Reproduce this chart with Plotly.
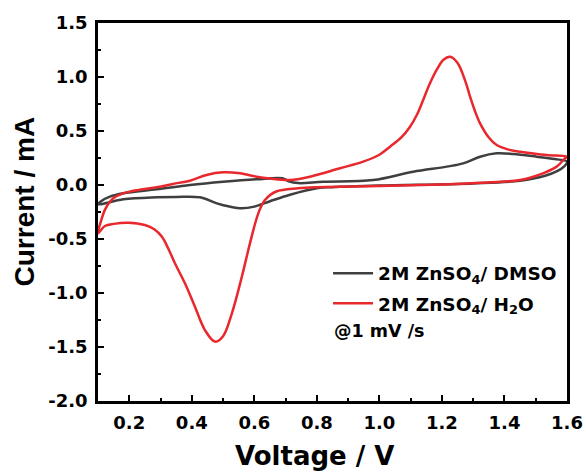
import plotly.graph_objects as go

# ---- data ----
v_h2o = [0.100, 0.110, 0.122, 0.138, 0.150, 0.181, 0.230, 0.288, 0.340, 0.394, 0.447, 0.500,
         0.554, 0.607, 0.650, 0.714, 0.778, 0.874, 0.948, 1.000, 1.034, 1.070, 1.098, 1.120,
         1.140, 1.160, 1.183, 1.205, 1.226, 1.250, 1.275, 1.290, 1.305, 1.322, 1.350,
         1.375, 1.410, 1.450, 1.535, 1.600,
         1.593, 1.567, 1.523, 1.450, 1.322, 1.200, 1.000, 0.800, 0.740, 0.670, 0.634, 0.613,
         0.586, 0.560, 0.528, 0.500, 0.474, 0.442, 0.410, 0.378, 0.346,
         0.325, 0.304, 0.280, 0.250, 0.197, 0.150, 0.122, 0.100]
i_h2o = [-0.447, -0.330, -0.230, -0.155, -0.120, -0.077, -0.045, -0.020, 0.010, 0.040, 0.093, 0.117,
         0.108, 0.077, 0.060, 0.046, 0.077, 0.155, 0.216, 0.280, 0.355, 0.440, 0.540, 0.650,
         0.787, 0.930, 1.065, 1.160, 1.188, 1.130, 0.960, 0.818, 0.690, 0.571, 0.440,
         0.370, 0.330, 0.308, 0.278, 0.262,
         0.245, 0.170, 0.108, 0.046, 0.021, 0.005, -0.010, -0.020, -0.030, -0.060, -0.139, -0.260,
         -0.540, -0.850, -1.190, -1.400, -1.450, -1.343, -1.127, -0.910, -0.725,
         -0.590, -0.478, -0.410, -0.370, -0.349, -0.360, -0.380, -0.447]

v_dmso = [0.100, 0.110, 0.138, 0.181, 0.288, 0.394, 0.500, 0.607, 0.690, 0.710, 0.740, 0.820,
          0.980, 1.108, 1.215, 1.268, 1.322, 1.375, 1.428, 1.503, 1.560, 1.600,
          1.590, 1.570, 1.530, 1.450, 1.300, 1.000, 0.850, 0.800, 0.714, 0.650, 0.600, 0.560,
          0.520, 0.480, 0.426, 0.350, 0.288, 0.181, 0.100]
i_dmso = [-0.180, -0.150, -0.108, -0.077, -0.040, 0.000, 0.030, 0.053, 0.062, 0.035, 0.018, 0.030,
          0.046, 0.123, 0.170, 0.200, 0.262, 0.293, 0.287, 0.262, 0.240, 0.216,
          0.170, 0.130, 0.085, 0.040, 0.015, -0.005, -0.020, -0.030, -0.090, -0.150, -0.200, -0.216,
          -0.200, -0.170, -0.114, -0.110, -0.114, -0.133, -0.180]

x_tick_vals = [0.2, 0.4, 0.6, 0.8, 1.0, 1.2, 1.4, 1.6]
x_tick_text = ["0.2", "0.4", "0.6", "0.8", "1.0", "1.2", "1.4", "1.6"]
y_tick_vals = [-2.0, -1.5, -1.0, -0.5, 0.0, 0.5, 1.0, 1.5]
y_tick_text = ["-2.0", "-1.5", "-1.0", "-0.5", "0.0", "0.5", "1.0", "1.5"]

name_dmso = "2M ZnSO<sub>4</sub>/ DMSO"
name_h2o = "2M ZnSO<sub>4</sub>/ H<sub>2</sub>O"

FONT = "DejaVu Sans"

fig = go.Figure()
fig.add_trace(go.Scatter(x=v_dmso, y=i_dmso, mode="lines", name=name_dmso, legendgroup="a",
                         line=dict(color="#3f3f3f", width=2.5, shape="spline", smoothing=1.0)))
fig.add_trace(go.Scatter(x=v_h2o, y=i_h2o, mode="lines", name=name_h2o, legendgroup="b",
                         line=dict(color="#e8282d", width=2.5, shape="spline", smoothing=1.0)))

axis_common = dict(showline=True, linecolor="black", linewidth=2.5, mirror=True,
                   ticks="inside", ticklen=6, tickwidth=2, tickcolor="black",
                   showgrid=False, zeroline=False, automargin=False,
                   tickfont=dict(family=FONT, size=18, color="black", weight="bold"))

fig.update_xaxes(range=[0.1, 1.6], tickvals=x_tick_vals, ticktext=x_tick_text,
                 ticklabelstandoff=4,
                 minor=dict(ticks="inside", ticklen=3, tickwidth=2, tickcolor="black", dtick=0.1, tick0=0.1),
                 **axis_common)
fig.update_yaxes(range=[-2.0, 1.5], tickvals=y_tick_vals, ticktext=y_tick_text,
                 ticklabelstandoff=4,
                 minor=dict(ticks="inside", ticklen=3, tickwidth=2, tickcolor="black", dtick=0.25, tick0=0),
                 **axis_common)

fig.update_layout(
    width=586, height=475,
    margin=dict(l=98, r=19, t=23, b=74, autoexpand=False),
    paper_bgcolor="white", plot_bgcolor="white",
    showlegend=True,
    legend=dict(x=0.4905, y=0.387, xanchor="left", yanchor="top",
                bgcolor="rgba(0,0,0,0)", itemwidth=40, traceorder="grouped", tracegroupgap=3,
                font=dict(family=FONT, size=18.5, color="black", weight="bold")),
    annotations=[
        dict(text="@1 mV /s", xref="paper", yref="paper", x=0.499, y=0.185,
             xanchor="left", yanchor="middle", showarrow=False,
             font=dict(family=FONT, size=17.5, color="black", weight="bold")),
        dict(text="Voltage / V", xref="paper", yref="paper", x=0.4606, y=-0.1455,
             xanchor="center", yanchor="middle", showarrow=False,
             font=dict(family=FONT, size=26, color="black", weight="bold")),
        dict(text="Current / mA", xref="paper", yref="paper", x=-0.1557, y=0.5278,
             xanchor="center", yanchor="middle", showarrow=False, textangle=-90,
             font=dict(family="Liberation Sans", size=28, color="black", weight="bold")),
    ],
)

# remove the default 8px page margin so the figure fills the window exactly
fig.write_html("out.html", config={"displayModeBar": False},
               post_script="document.body.style.margin='0';document.body.style.overflow='hidden';")
